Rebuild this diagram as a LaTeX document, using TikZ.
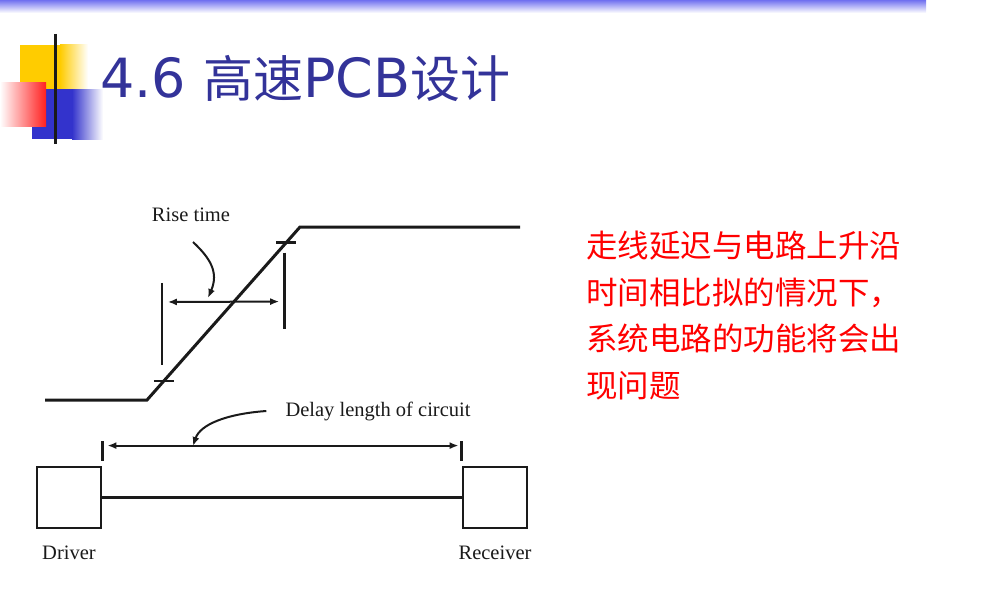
\documentclass[tikz,border=0pt]{standalone}
\usepackage{fontspec}
\usepackage{xcolor}
\usepackage{tikz}
\usetikzlibrary{arrows.meta, positioning, calc}
\setmainfont{Liberation Serif}
\newfontfamily\cjk{Noto Sans CJK SC}
\newfontfamily\titlefont{DejaVu Sans}
\definecolor{ink}{HTML}{1A1A1A}
\definecolor{titleBlue}{HTML}{333399}
\definecolor{barBlue}{HTML}{7070F0}
\definecolor{logoYellow}{HTML}{FFCC00}
\definecolor{logoBlue}{HTML}{3333CC}
\definecolor{logoRed}{HTML}{FF2020}
\definecolor{noteRed}{HTML}{FF0000}

\begin{document}
\begin{tikzpicture}[x=1pt, y=-1pt, font=\fontsize{20.5pt}{22pt}\selectfont]
    \tikzset{
      wave/.style={draw=ink, line width=3pt, line join=miter},
      tickmark/.style={draw=ink, line width=2.6pt},
      dim/.style={{Latex[length=9pt,width=7pt]}-{Latex[length=9pt,width=7pt]}, draw=ink, line width=2pt},
      lead/.style={-{Latex[length=9pt,width=7pt]}, draw=ink, line width=2pt},
      blk/.style={rectangle, draw=ink, line width=2.8pt, minimum width=64pt,
                  minimum height=61pt, inner sep=0pt},
      lbl/.style={inner sep=0pt, text=ink}
    }
    \useasboundingbox (0,0) rectangle (993,594);
    \shade[top color=barBlue, bottom color=white] (0,0) rectangle (926,13);
    \fill[logoYellow] (20,45) rectangle (60,89);
    \shade[left color=logoYellow, right color=white] (60,45) rectangle (88,89);
    \fill[logoBlue] (32,89) rectangle (72,139);
    \shade[left color=logoBlue, right color=white] (72,89) rectangle (103,139);
    \shade[left color=white, right color=logoRed] (0,82) rectangle (46,126);
    \draw[line width=3pt, ink] (55,34) -- (55,144);
    \node[inner sep=0pt, anchor=base west, text=titleBlue] (title) at (100,97)
      {\titlefont\fontsize{54pt}{60pt}\selectfont 4.6 {\cjk\fontsize{50pt}{56pt}\selectfont 高速}PCB{\cjk\fontsize{50pt}{56pt}\selectfont 设计}};
    \node[inner sep=0pt, anchor=north west, text=noteRed, align=left,
          font=\cjk\fontsize{31.5pt}{46.5pt}\selectfont] (note) at (586,231)
      {走线延迟与电路上升沿\\时间相比拟的情况下，\\系统电路的功能将会出\\现问题};
    \coordinate (lowL) at (45,400);
    \coordinate (lowR) at (147,400);
    \coordinate (highL) at (300,227);
    \coordinate (highR) at (520,227);
    \draw[wave] (lowL) -- (lowR) -- (highL) -- (highR);
    \coordinate (t10) at ($(lowR)!0.11!(highL)$);
    \coordinate (t90) at ($(lowR)!0.91!(highL)$);
    \draw[tickmark] ([xshift=-10pt]t10) -- ([xshift=10pt]t10);
    \draw[tickmark] ([xshift=-10pt]t90) -- ([xshift=10pt]t90);
    \draw[tickmark] ($(t10)+(-2,-98)$) -- ($(t10)+(-2,-16)$);
    \draw[tickmark] ($(t90)+(-2,10)$) -- ($(t90)+(-2,86)$);
    \coordinate (rtL) at ($(t10)+(4,-79)$);
    \coordinate (rtR) at ($(t90)+(-7,59)$);
    \draw[dim] (rtL) -- (rtR);
    \node[lbl] (rise) at (191,215) {Rise time};
    \coordinate (riseTail) at (193,242);
    \coordinate (riseTip) at (208,298);
    \draw[lead] (riseTail) .. controls (210,258) and (219,272) .. (riseTip);
    \node[blk] (drv) at (69,497.5) {};
    \node[blk] (rcv) at (495,497.5) {};
    \draw[draw=ink, line width=2.4pt] (drv) -- (rcv);
    \node[lbl, below=16pt of drv] (drvLbl) {Driver};
    \node[lbl, below=16pt of rcv] (rcvLbl) {Receiver};
    \draw[tickmark] ($(drv.north east)+(0,-5)$) -- ($(drv.north east)+(0,-25)$);
    \draw[tickmark] ($(rcv.north west)+(0,-5)$) -- ($(rcv.north west)+(0,-25)$);
    \coordinate (dlL) at ($(drv.north east)+(5,-20)$);
    \coordinate (dlR) at ($(rcv.north west)+(-3,-20)$);
    \draw[dim] (dlL) -- (dlR);
    \node[lbl] (delay) at (378,411) {Delay length of circuit};
    \coordinate (delayTail) at ([xshift=-19pt]delay.west);
    \coordinate (delayTip) at (193,446);
    \draw[lead] (delayTail) .. controls (225,414) and (200,425) .. (delayTip);
  \end{tikzpicture}
\end{document}
